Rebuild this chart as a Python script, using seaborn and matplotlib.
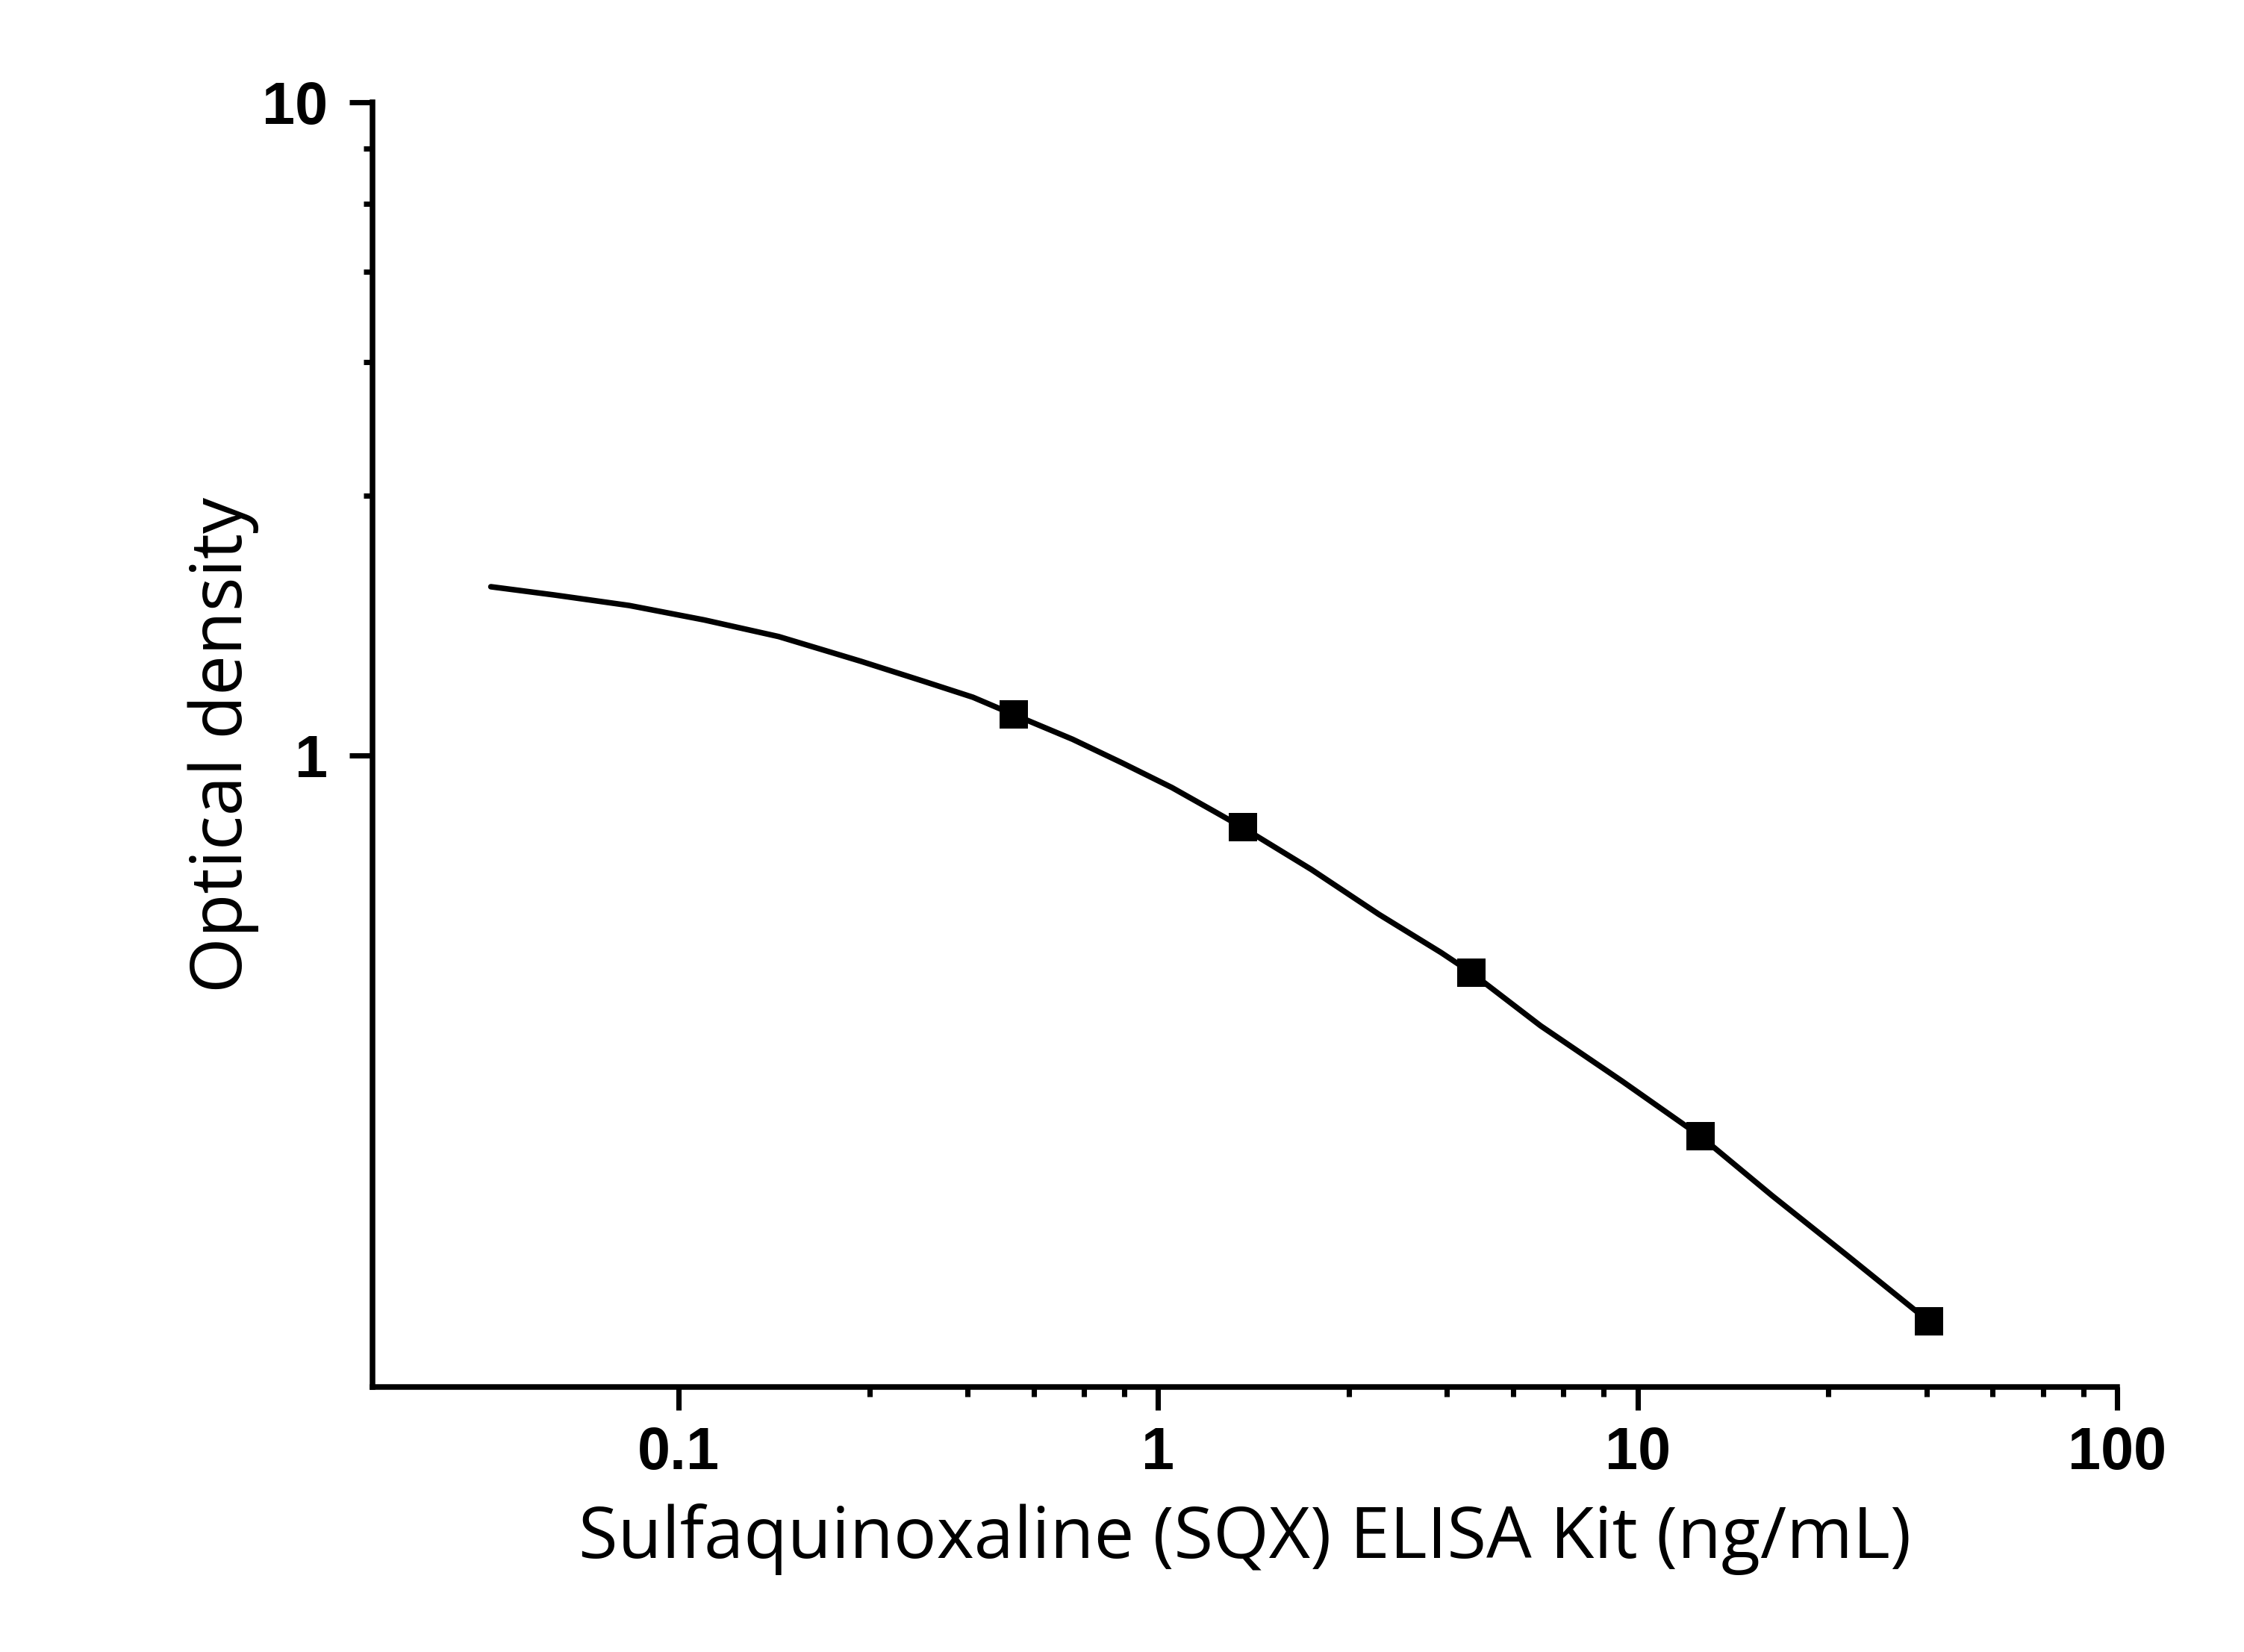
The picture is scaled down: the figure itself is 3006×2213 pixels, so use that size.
import numpy as np
import pandas as pd
import matplotlib
matplotlib.use("Agg")
import matplotlib.pyplot as plt
import seaborn as sns

# Standard points (concentration ng/mL, OD)
conc = [0.5, 1.5, 4.5, 13.5, 40.5]
od = [1.155, 0.776, 0.465, 0.2615, 0.136]

# Fitted curve
curve_x = [0.0406, 0.0551, 0.0789, 0.113, 0.1617, 0.240, 0.3235, 0.411, 0.5,
           0.663, 0.842, 1.069, 1.31, 1.5, 2.088, 2.884, 3.89, 4.5,
           6.273, 9.307, 13.5, 19.07, 27.3, 40.5]
curve_y = [1.813, 1.761, 1.697, 1.613, 1.521, 1.394, 1.300, 1.228, 1.155,
           1.059, 0.974, 0.893, 0.821, 0.776, 0.669, 0.5715, 0.4993, 0.465,
           0.3857, 0.3168, 0.2615, 0.2119, 0.1718, 0.136]

x_major = [0.1, 1, 10, 100]
x_major_labels = ["0.1", "1", "10", "100"]
x_minor = [0.25, 0.4, 0.55, 0.7, 0.85, 2.5, 4, 5.5, 7, 8.5, 25, 40, 55, 70, 85]
y_major = [1, 10]
y_major_labels = ["1", "10"]
y_minor = [2.5, 4, 5.5, 7, 8.5]

points_df = pd.DataFrame({"conc": conc, "od": od})
curve_df = pd.DataFrame({"conc": curve_x, "od": curve_y})

sns.set_style("ticks")
plt.rcParams["font.family"] = ["Open Sans", "DejaVu Sans"]
plt.rcParams["text.color"] = "black"
plt.rcParams["axes.labelcolor"] = "black"
plt.rcParams["xtick.color"] = "black"
plt.rcParams["ytick.color"] = "black"

fig = plt.figure(figsize=(10.02, 7.377), dpi=300)
ax = fig.add_axes([0.166, 0.1605, 0.7775, 0.7775])

sns.lineplot(data=curve_df, x="conc", y="od", color="black", linewidth=1.8,
             sort=False, ax=ax)
sns.scatterplot(data=points_df, x="conc", y="od", marker="s", s=85,
                color="black", edgecolor="black", linewidth=0, ax=ax, zorder=3)

ax.set_xscale("log")
ax.set_yscale("log")
ax.set_xlim(0.023, 100)
ax.set_ylim(0.108, 10)

tick_font = dict(fontfamily=["Liberation Sans", "DejaVu Sans"],
                 fontweight="bold", fontsize=19, color="black")
ax.set_xticks(x_major)
ax.set_xticklabels(x_major_labels, **tick_font)
ax.set_xticks(x_minor, minor=True)
ax.set_xticklabels([], minor=True)
ax.set_yticks(y_major)
ax.set_yticklabels(y_major_labels, **tick_font)
ax.set_yticks(y_minor, minor=True)
ax.set_yticklabels([], minor=True)

ax.tick_params(which="major", direction="out", length=7.4, width=1.7,
               color="black", pad=5)
ax.tick_params(axis="y", which="major", pad=7)
ax.tick_params(which="minor", direction="out", length=3.0, width=1.7,
               color="black")

sns.despine(ax=ax)
for side in ["left", "bottom"]:
    ax.spines[side].set_linewidth(1.8)
    ax.spines[side].set_color("black")

ax.set_xlabel("Sulfaquinoxaline (SQX) ELISA Kit (ng/mL)", fontsize=23,
              labelpad=7, color="black")
ax.set_ylabel("Optical density", fontsize=23, labelpad=1, color="black")

plt.savefig("out.png", dpi=300)
